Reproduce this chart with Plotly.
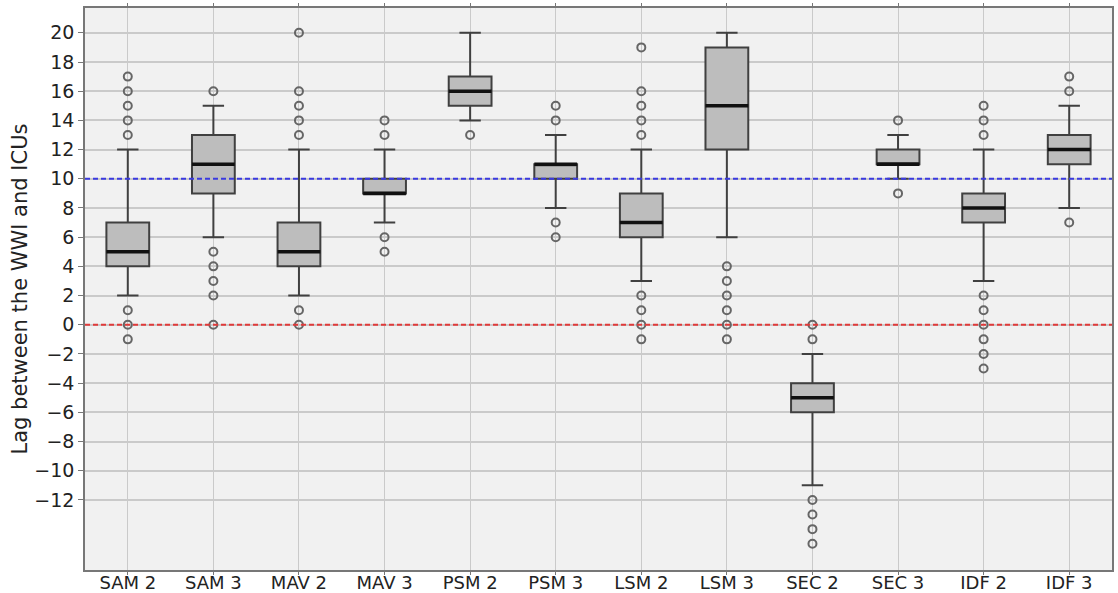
import plotly.graph_objects as go

categories = ["SAM 2", "SAM 3", "MAV 2", "MAV 3", "PSM 2", "PSM 3",
              "LSM 2", "LSM 3", "SEC 2", "SEC 3", "IDF 2", "IDF 3"]
q1 = [4, 9, 4, 9, 15, 10, 6, 12, -6, 11, 7, 11]
median = [5, 11, 5, 9, 16, 11, 7, 15, -5, 11, 8, 12]
q3 = [7, 13, 7, 10, 17, 11, 9, 19, -4, 12, 9, 13]
lower_whisker = [2, 6, 2, 7, 14, 8, 3, 6, -11, 10, 3, 8]
upper_whisker = [12, 15, 12, 12, 20, 13, 12, 20, -2, 13, 12, 15]
outliers = [
    [13, 14, 15, 16, 17, 1, 0, -1],
    [16, 5, 4, 3, 2, 0],
    [20, 16, 15, 14, 13, 1, 0],
    [14, 13, 6, 5],
    [13],
    [15, 14, 7, 6],
    [19, 16, 15, 14, 13, 2, 1, 0, -1],
    [4, 3, 2, 1, 0, -1],
    [0, -1, -12, -13, -14, -15],
    [14, 9],
    [15, 14, 13, 2, 1, 0, -1, -2, -3],
    [17, 16, 7],
]
ref_lines = {"upper": 10, "zero": 0}
y_ticks = list(range(-12, 21, 2))

BOX_W = 0.5
pos = list(range(len(categories)))

fig = go.Figure()
fig.add_trace(go.Box(
    x=pos, q1=q1, median=median, q3=q3,
    lowerfence=lower_whisker, upperfence=upper_whisker,
    width=BOX_W, whiskerwidth=0.5, boxpoints=False,
    fillcolor="#bdbdbd", line=dict(color="#404040", width=2),
    showlegend=False, hoverinfo="skip",
))

# thicker median lines
mx, my = [], []
for i, m in zip(pos, median):
    mx += [i - BOX_W / 2, i + BOX_W / 2, None]
    my += [m, m, None]
fig.add_trace(go.Scatter(x=mx, y=my, mode="lines",
                         line=dict(color="#111111", width=3.5),
                         showlegend=False, hoverinfo="skip"))

ox, oy = [], []
for i, outs in zip(pos, outliers):
    ox += [i] * len(outs)
    oy += outs
fig.add_trace(go.Scatter(x=ox, y=oy, mode="markers",
                         marker=dict(symbol="circle-open", size=8,
                                     color="#666666", line=dict(width=2)),
                         showlegend=False, hoverinfo="skip"))

fig.add_hline(y=ref_lines["upper"], line=dict(color="#3a3ae0", width=2, dash="5px,3px"))
fig.add_hline(y=ref_lines["zero"], line=dict(color="#e03a3a", width=2, dash="5px,3px"))

fig.update_layout(
    width=1118, height=593,
    margin=dict(l=85, r=6, t=8, b=23, autoexpand=False),
    paper_bgcolor="white", plot_bgcolor="#f1f1f1",
    font=dict(family="DejaVu Sans", color="#222222"),
)
fig.update_xaxes(
    range=[-0.5, len(categories) - 0.5], automargin=False,
    tickvals=pos, ticktext=categories,
    tickfont=dict(size=18), showgrid=True, gridcolor="#cacaca", gridwidth=1,
    showline=True, linecolor="#777777", linewidth=1.5, mirror="ticks",
    ticks="outside", ticklen=3, tickcolor="#777777", zeroline=False,
    ticklabelstandoff=-7,
)
fig.update_yaxes(
    range=[-16.8, 21.7], automargin=False,
    tickvals=y_ticks, tickfont=dict(size=19),
    showgrid=True, gridcolor="#cacaca", gridwidth=1.5,
    showline=True, linecolor="#777777", linewidth=1.5, mirror=True,
    ticks="outside", ticklen=5, tickcolor="#777777", zeroline=False,
    title=dict(text="Lag between the WWI and ICUs", font=dict(size=21), standoff=1),
)

fig.write_html("out.html", config={"displayModeBar": False},
               post_script="document.body.style.margin='0';document.body.style.overflow='hidden';")
